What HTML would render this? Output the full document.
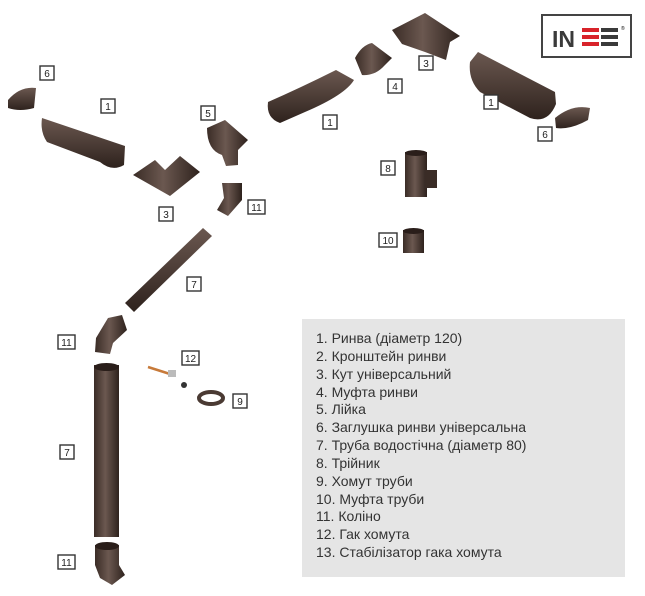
<!DOCTYPE html>
<html><head><meta charset="utf-8"><style>
html,body{margin:0;padding:0;background:#fff;width:645px;height:596px;overflow:hidden}
svg{display:block}
.lb rect{fill:#fff;stroke:#333;stroke-width:1.4}
.lb text{font-family:"Liberation Sans",sans-serif;font-size:10px;fill:#222;text-anchor:middle}
.lg{font-family:"Liberation Sans","DejaVu Sans",sans-serif;font-size:14px;fill:#333}
</style></head><body>
<svg width="645" height="596" viewBox="0 0 645 596">
<defs>
<linearGradient id="b" x1="0" y1="0" x2="1" y2="0"><stop offset="0" stop-color="#3a2c26"/><stop offset=".45" stop-color="#6b5850"/><stop offset="1" stop-color="#2e221d"/></linearGradient>
<linearGradient id="bv" x1="0" y1="0" x2="0" y2="1"><stop offset="0" stop-color="#6b5850"/><stop offset="1" stop-color="#2e221d"/></linearGradient>
</defs>
<!-- logo -->
<rect x="542" y="15" width="89" height="42" fill="#fff" stroke="#444" stroke-width="2"/>
<text x="552" y="47" font-family="Liberation Sans,sans-serif" font-weight="bold" font-size="23" fill="#3a3a3a">IN</text>
<rect x="582" y="28" width="17" height="4" fill="#d8232a"/><rect x="582" y="35" width="17" height="4" fill="#d8232a"/><rect x="582" y="42" width="17" height="4" fill="#d8232a"/>
<rect x="601" y="28" width="17" height="4" fill="#3a3a3a"/><rect x="601" y="35" width="17" height="4" fill="#3a3a3a"/><rect x="601" y="42" width="17" height="4" fill="#3a3a3a"/>
<text x="621" y="30" font-size="5" font-family="Liberation Sans,sans-serif">®</text>

<!-- left gutter -->
<path d="M42 118 L125 146 L124 165 Q112 172 100 162 L47 142 Q40 132 42 118Z" fill="url(#bv)"/>
<path d="M8 100 Q20 86 36 88 L34 108 Q20 112 8 108Z" fill="url(#bv)"/>
<!-- corner 3 left -->
<path d="M133 175 L155 160 L165 170 L180 156 L200 172 L170 196 Z" fill="url(#b)"/>
<!-- lijka 5 -->
<path d="M207 128 L225 120 L248 140 L238 150 L238 165 L226 166 L222 155 Q207 150 207 128Z" fill="url(#b)"/>
<!-- elbow 11 top -->
<path d="M222 183 L242 183 L242 200 L228 216 L217 210 L224 198Z" fill="url(#b)"/>
<!-- pipe diagonal -->
<path d="M125 303 L203 228 L212 236 L134 312Z" fill="url(#bv)"/>
<!-- elbow 11 -->
<path d="M108 318 L122 315 L127 330 L113 343 L110 354 L95 352 L96 338Z" fill="url(#b)"/>
<!-- hook 12 -->
<line x1="148" y1="367" x2="170" y2="374" stroke="#c77a3a" stroke-width="2.5"/>
<rect x="168" y="370" width="8" height="7" fill="#bbb"/><circle cx="184" cy="385" r="3" fill="#333"/>
<!-- clamp 9 -->
<ellipse cx="211" cy="398" rx="12" ry="6" fill="none" stroke="#4a3a33" stroke-width="4"/>
<!-- long pipe -->
<rect x="94" y="365" width="25" height="172" fill="url(#b)"/><ellipse cx="106.5" cy="367" rx="12.5" ry="4" fill="#2a1e1a"/>
<!-- bottom elbow -->
<path d="M95 545 L119 545 L119 565 L125 575 L112 585 L100 578 L95 565Z" fill="url(#b)"/><ellipse cx="107" cy="546" rx="12" ry="4" fill="#2a1e1a"/>
<!-- center gutter -->
<path d="M268 102 Q300 88 336 70 L354 80 Q345 95 305 112 L280 123 Q266 118 268 102Z" fill="url(#bv)"/>
<!-- coupling 4 -->
<path d="M355 58 Q362 45 372 43 L392 58 L384 66 Q375 76 362 75Z" fill="url(#b)"/>
<!-- corner 3 top -->
<path d="M392 30 L425 13 L460 36 L450 42 L446 60 L425 52 L402 44Z" fill="url(#b)"/>
<!-- right gutter -->
<path d="M470 62 L478 52 L555 92 L556 104 Q548 124 530 118 L480 92 Q468 80 470 62Z" fill="url(#bv)"/>
<path d="M555 118 Q572 104 590 108 L588 120 Q570 130 556 128Z" fill="url(#bv)"/>
<!-- tee 8 -->
<rect x="405" y="152" width="22" height="45" fill="url(#b)"/><path d="M425 170 L437 170 L437 188 L425 188Z" fill="#3a2c26"/><ellipse cx="416" cy="153" rx="11" ry="3" fill="#2a1e1a"/>
<!-- coupling 10 -->
<rect x="403" y="230" width="21" height="23" fill="url(#b)"/><ellipse cx="413.5" cy="231" rx="10.5" ry="3" fill="#2a1e1a"/>

<!-- labels -->
<g class="lb">
<g transform="translate(40,66)"><rect width="14" height="14"/><text x="7" y="11">6</text></g>
<g transform="translate(101,99)"><rect width="14" height="14"/><text x="7" y="11">1</text></g>
<g transform="translate(201,106)"><rect width="14" height="14"/><text x="7" y="11">5</text></g>
<g transform="translate(159,207)"><rect width="14" height="14"/><text x="7" y="11">3</text></g>
<g transform="translate(248,200)"><rect width="17" height="14"/><text x="8.5" y="11">11</text></g>
<g transform="translate(323,115)"><rect width="14" height="14"/><text x="7" y="11">1</text></g>
<g transform="translate(388,79)"><rect width="14" height="14"/><text x="7" y="11">4</text></g>
<g transform="translate(419,56)"><rect width="14" height="14"/><text x="7" y="11">3</text></g>
<g transform="translate(484,95)"><rect width="14" height="14"/><text x="7" y="11">1</text></g>
<g transform="translate(538,127)"><rect width="14" height="14"/><text x="7" y="11">6</text></g>
<g transform="translate(381,161)"><rect width="14" height="14"/><text x="7" y="11">8</text></g>
<g transform="translate(379,233)"><rect width="18" height="14"/><text x="9" y="11">10</text></g>
<g transform="translate(187,277)"><rect width="14" height="14"/><text x="7" y="11">7</text></g>
<g transform="translate(58,335)"><rect width="17" height="14"/><text x="8.5" y="11">11</text></g>
<g transform="translate(182,351)"><rect width="17" height="14"/><text x="8.5" y="11">12</text></g>
<g transform="translate(233,394)"><rect width="14" height="14"/><text x="7" y="11">9</text></g>
<g transform="translate(60,445)"><rect width="14" height="14"/><text x="7" y="11">7</text></g>
<g transform="translate(58,555)"><rect width="17" height="14"/><text x="8.5" y="11">11</text></g>
</g>

<!-- legend -->
<rect x="302" y="319" width="323" height="258" fill="#e5e5e5"/>
<g class="lg">
<text x="316" y="343">1. Ринва (діаметр 120)</text>
<text x="316" y="361">2. Кронштейн ринви</text>
<text x="316" y="379">3. Кут універсальний</text>
<text x="316" y="397">4. Муфта ринви</text>
<text x="316" y="414">5. Лійка</text>
<text x="316" y="432">6. Заглушка ринви універсальна</text>
<text x="316" y="450">7. Труба водостічна (діаметр 80)</text>
<text x="316" y="468">8. Трійник</text>
<text x="316" y="486">9. Хомут труби</text>
<text x="316" y="504">10. Муфта труби</text>
<text x="316" y="521">11. Коліно</text>
<text x="316" y="539">12. Гак хомута</text>
<text x="316" y="557">13. Стабілізатор гака хомута</text>
</g>
</svg>
</body></html>
